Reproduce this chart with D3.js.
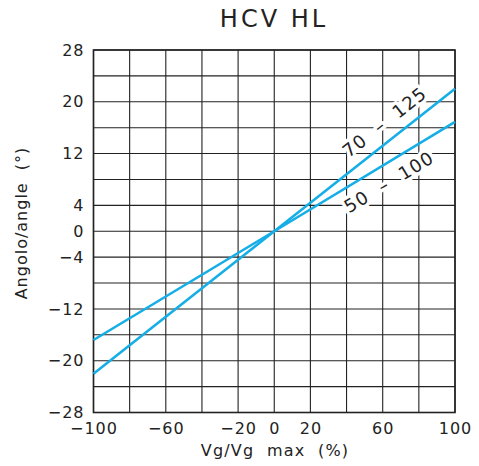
<!DOCTYPE html>
<html>
<head>
<meta charset="utf-8">
<script src="https://cdn.jsdelivr.net/npm/d3@7"></script>
<style>
body{margin:0;background:#fff;}
svg{display:block;font-family:"DejaVu Sans",sans-serif;}
text{white-space:pre;}
</style>
</head>
<body>
<svg id="chart" width="479" height="466"></svg>
<script>
const title = "HCV HL";
const xLabel = "Vg/Vg  max  (%)";
const yLabel = "Angolo/angle  (°)";
const xTicks = [-100, -60, -20, 0, 20, 60, 100];
const yTicks = [28, 20, 12, 4, 0, -4, -12, -20, -28];
const xGrid = [-100, -80, -60, -40, -20, 0, 20, 40, 60, 80, 100];
const yGrid = [-28, -24, -20, -16, -12, -8, -4, 0, 4, 8, 12, 16, 20, 24, 28];
const xValues = [-100, 0, 100];
const series70 = [-22, 0, 22];
const series50 = [-16.8, 0, 16.9];
const seriesNames = ["70  –  125", "50  –  100"];
const labelX = [61, 63.5];

const svg = d3.select("#chart");
const L = 93.5, R = 455, T = 50, B = 412.5;
const x = d3.scaleLinear().domain([-100, 100]).range([L, R]);
const y = d3.scaleLinear().domain([-28, 28]).range([B, T]);
const ink = "#222";
const blue = "#15aee6";

const grid = svg.append("g");
grid.selectAll("line.v").data(xGrid).join("line")
  .attr("x1", d => x(d)).attr("x2", d => x(d)).attr("y1", T).attr("y2", B)
  .attr("stroke", ink).attr("stroke-width", 1.1);
grid.selectAll("line.h").data(yGrid).join("line")
  .attr("y1", d => y(d)).attr("y2", d => y(d)).attr("x1", L).attr("x2", R)
  .attr("stroke", ink).attr("stroke-width", 1.1);
svg.append("rect").attr("x", L).attr("y", T).attr("width", R - L).attr("height", B - T)
  .attr("fill", "none").attr("stroke", ink).attr("stroke-width", 1.6);

// axes (labels only)
const fmt = d => d < 0 ? "−" + Math.abs(d) : String(d);
const xAxis = d3.axisBottom(x).tickValues(xTicks).tickSize(0).tickPadding(10).tickFormat(fmt);
const gx = svg.append("g").attr("transform", `translate(0,${B})`).call(xAxis);
gx.select(".domain").remove();
gx.selectAll("text").attr("font-size", 16).attr("fill", ink)
  .attr("font-family", "DejaVu Sans").attr("letter-spacing", 1);

const yAxis = d3.axisLeft(y).tickValues(yTicks).tickSize(0).tickPadding(9).tickFormat(fmt);
const gy = svg.append("g").attr("transform", `translate(${L},0)`).call(yAxis);
gy.select(".domain").remove();
gy.selectAll("text").attr("font-size", 16).attr("fill", ink)
  .attr("font-family", "DejaVu Sans").attr("letter-spacing", 1);

// lines
const line = d3.line().x((d, i) => x(xValues[i])).y(d => y(d));
[series70, series50].forEach(s => {
  svg.append("path").datum(s).attr("d", line)
    .attr("fill", "none").attr("stroke", blue).attr("stroke-width", 2.6);
});

// line labels
function interp(s, xv) {
  const i = xv <= 0 ? 0 : 1;
  const t = (xv - xValues[i]) / (xValues[i + 1] - xValues[i]);
  return s[i] + t * (s[i + 1] - s[i]);
}
[[series70, -22.5, 0], [series50, 20, 1]].forEach(([s, off, k]) => {
  const xv = labelX[k];
  const px = x(xv), py = y(interp(s, xv)) + off;
  const dx = x(100) - x(0), dy = y(s[2]) - y(0);
  const ang = Math.atan2(dy, dx) * 180 / Math.PI;
  svg.append("text")
    .attr("transform", `translate(${px},${py}) rotate(${ang})`)
    .attr("text-anchor", "middle").attr("dominant-baseline", "central")
    .attr("font-size", 18).attr("letter-spacing", 1.2).attr("fill", ink)
    .attr("stroke", "#fff").attr("stroke-width", 7).attr("paint-order", "stroke")
    .attr("stroke-linejoin", "round")
    .text(seriesNames[k]);
});

// titles
svg.append("text").attr("x", 274).attr("y", 27).attr("text-anchor", "middle")
  .attr("font-size", 24).attr("letter-spacing", 3)
  .attr("fill", ink).text(title);
svg.append("text").attr("x", 275).attr("y", 456).attr("text-anchor", "middle")
  .attr("font-size", 16).attr("letter-spacing", 1.2).attr("fill", ink).text(xLabel);
svg.append("text").attr("transform", "translate(27,223) rotate(-90)")
  .attr("text-anchor", "middle").attr("font-size", 16).attr("letter-spacing", 1)
  .attr("fill", ink).text(yLabel);
</script>
</body>
</html>
